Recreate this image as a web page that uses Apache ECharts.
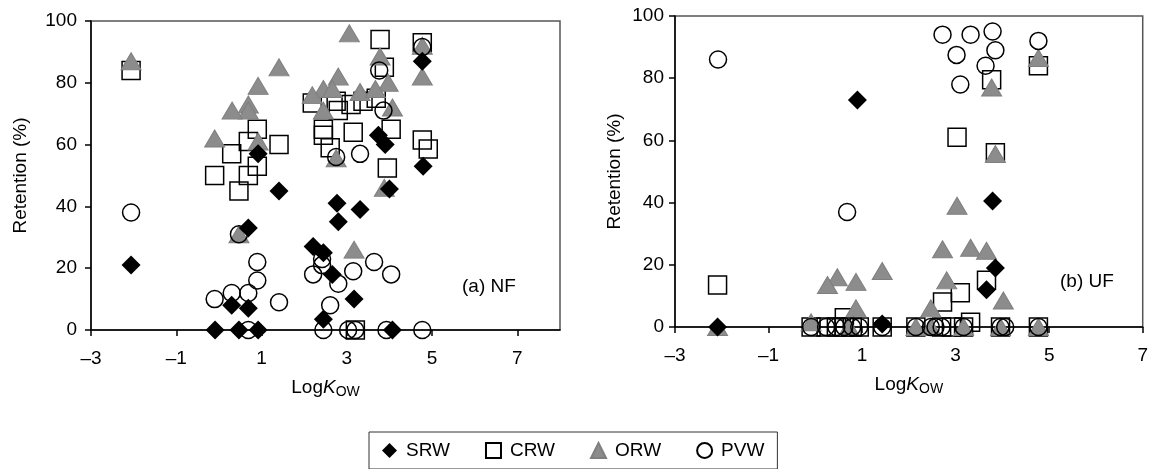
<!DOCTYPE html>
<html>
<head>
<meta charset="utf-8">
<script src="https://cdn.jsdelivr.net/npm/echarts@6/dist/echarts.min.js"></script>
<style>
html,body{margin:0;padding:0;background:#fff;}
#chart{width:1151px;height:469px;}
</style>
</head>
<body>
<div id="chart"></div>
<script>
// ---- data ----
var seriesNames = ['SRW', 'CRW', 'ORW', 'PVW'];
var xTickValues = [-3, -1, 1, 3, 5, 7];
var panelLabels = ['(a) NF', '(b) UF'];

// (a) NF
var nfSRW = [[-2.06,21],[0.92,57],[1.41,45],[0.69,33],[0.3,8],[0.69,7],[-0.09,0],[0.47,0],[0.92,0],
  [4.77,87],[3.74,63],[3.9,60],[4.79,53],[4.0,45.6],[2.77,41],[3.31,39],[2.8,35],[2.21,27],[2.45,25],
  [2.66,18],[3.17,10],[2.45,3.5],[4.07,0]];
var nfCRW = [[-2.06,84],[0.9,65],[0.69,61],[1.41,60],[0.3,57],[0.9,53],[-0.1,50],[0.69,50],[0.47,45],
  [3.78,94],[4.77,93],[3.88,85],[2.19,73.5],[2.75,74],[2.8,71],[3.1,73],[3.38,74],[3.69,75],
  [2.45,65],[2.45,63],[3.15,64],[4.04,65],[4.77,61.5],[4.91,58.6],[2.61,59],[3.95,52.4],[3.2,0]];
var nfORW = [[-2.06,87],[1.41,85],[0.92,79],[0.69,73],[0.69,71],[0.31,71],[-0.1,62],[0.92,61],[0.47,31],
  [3.06,96],[4.77,92],[4.77,82],[3.78,88.5],[3.97,80],[2.8,82],[2.45,78],[2.66,78],[2.19,76],[3.31,77],
  [3.67,78],[4.07,72],[2.45,71],[2.75,55.6],[3.88,46],[3.17,26]];
var nfPVW = [[-2.06,38],[0.47,31],[0.9,22],[0.9,16],[0.3,12],[0.69,12],[-0.1,10],[1.41,9],[0.69,0],
  [4.77,91.6],[3.76,84],[3.86,71],[2.75,56],[3.31,57],[2.42,23],[2.42,21],[3.64,22],[2.21,18],[3.15,19],
  [4.04,18],[2.8,15],[2.61,8],[2.45,0],[3.03,0],[3.2,0],[3.93,0],[4.77,0]];

// (b) UF
var ufSRW = [[-2.09,0],[0.9,73],[3.79,40.5],[3.85,19],[3.66,12],[1.43,1]];
var ufCRW = [[-2.09,13.5],[4.77,84],[3.77,79.5],[3.03,61],[3.85,56],[3.66,15],[3.1,11],[2.72,8],[3.32,1.5],
  [0.62,3],[-0.09,0],[0.23,0],[0.45,0],[0.62,0],[0.79,0],[0.94,0],[1.43,0],[2.15,0],[2.7,0],[2.91,0],
  [3.17,0],[3.96,0],[4.77,0]];
var ufORW = [[-2.09,0],[4.77,86.5],[3.77,77],[3.85,55.6],[3.03,39],[2.72,25],[3.32,25.5],[3.66,24.5],
  [1.43,18],[0.47,16],[0.26,13.5],[0.87,14.5],[0.87,6],[2.81,15],[2.47,6],[4.02,8.5],[-0.09,1.5],
  [0.72,0],[2.15,0],[2.47,0],[3.17,0],[3.96,0],[4.77,0]];
var ufPVW = [[-2.08,86],[0.68,37],[2.72,94],[3.32,94],[3.79,95],[3.02,87.5],[3.85,89],[3.64,84],[3.1,78],
  [4.77,92],[-0.09,0],[0.23,0],[0.45,0],[0.62,0],[0.79,0],[0.94,0],[1.43,0],[2.15,0],[2.47,0],[2.57,0],
  [2.7,0],[3.17,0],[3.96,0],[4.06,0],[4.77,0]];

// ---- styles ----
var FONT = 'Liberation Sans, Arial, Helvetica, sans-serif';
var styles = {
  SRW: {symbol: 'diamond', symbolSize: [19, 19], itemStyle: {color: '#000', borderColor: '#000', borderWidth: 0, opacity: 1}, z: 5},
  CRW: {symbol: 'rect', symbolSize: [18, 18], itemStyle: {color: 'rgba(255,255,255,0)', borderColor: '#000', borderWidth: 1.5, opacity: 1}, z: 2},
  ORW: {symbol: 'triangle', symbolSize: [20, 17], itemStyle: {color: '#8c8c8c', borderColor: '#7f7f7f', borderWidth: 1, opacity: 1}, z: 3},
  PVW: {symbol: 'circle', symbolSize: [17, 17], itemStyle: {color: 'rgba(255,255,255,0)', borderColor: '#000', borderWidth: 1.5, opacity: 1}, z: 4}
};
var panelData = [
  {SRW: nfSRW, CRW: nfCRW, ORW: nfORW, PVW: nfPVW},
  {SRW: ufSRW, CRW: ufCRW, ORW: ufORW, PVW: ufPVW}
];

var nameRich = {
  a: {fontSize: 19, fontFamily: FONT, color: '#000'},
  b: {fontSize: 19, fontFamily: FONT, fontStyle: 'italic', color: '#000'},
  c: {fontSize: 14, fontFamily: FONT, color: '#000', padding: [9, 0, 0, 0]}
};

function xAxisFor(i, max) {
  return {
    type: 'value', gridIndex: i, min: -3, max: max,
    name: '{a|Log}{b|K}{c|OW}', nameLocation: 'middle', nameGap: 46,
    nameTextStyle: {rich: nameRich},
    axisLine: {show: true, onZero: false, lineStyle: {color: '#000', width: 1.5}},
    axisTick: {show: true, inside: false, length: 6, customValues: xTickValues, lineStyle: {color: '#000', width: 1.5}},
    axisLabel: {customValues: xTickValues, margin: 19, fontSize: 19, fontFamily: FONT, color: '#000',
      formatter: function (v) { return v < 0 ? '\u2013' + Math.abs(v) : String(v); }},
    splitLine: {show: false}
  };
}
function yAxisFor(i, gap, margin) {
  return {
    type: 'value', gridIndex: i, min: 0, max: 100, interval: 20,
    name: 'Retention (%)', nameLocation: 'middle', nameGap: gap, nameRotate: 90,
    nameTextStyle: {fontSize: 19, fontFamily: FONT, color: '#000'},
    axisLine: {show: true, onZero: false, lineStyle: {color: '#000', width: 1.5}},
    axisTick: {show: true, inside: false, length: 6, lineStyle: {color: '#000', width: 1.5}},
    axisLabel: {margin: margin, fontSize: 19, fontFamily: FONT, color: '#000'},
    splitLine: {show: false}
  };
}

var series = [];
panelData.forEach(function (pd, gi) {
  seriesNames.forEach(function (n) {
    var s = styles[n];
    series.push({
      name: n, type: 'scatter', xAxisIndex: gi, yAxisIndex: gi,
      symbol: s.symbol, symbolSize: s.symbolSize, itemStyle: s.itemStyle, z: s.z,
      data: pd[n], clip: false, emphasis: {disabled: true}
    });
  });
});

var chart = echarts.init(document.getElementById('chart'), null, {renderer: 'canvas'});
chart.setOption({
  animation: false,
  backgroundColor: '#fff',
  grid: [
    {left: 91, top: 21, width: 469, height: 309, show: true, borderColor: '#555', borderWidth: 1.5, backgroundColor: 'transparent'},
    {left: 675, top: 16, width: 470, height: 311, show: true, borderColor: '#555', borderWidth: 1.5, backgroundColor: 'transparent'}
  ],
  xAxis: [xAxisFor(0, 8), xAxisFor(1, 7)],
  yAxis: [yAxisFor(0, 61, 14), yAxisFor(1, 51, 11)],
  legend: {
    data: seriesNames, left: 369, top: 432, orient: 'horizontal',
    padding: [9, 13, 9, 13], itemGap: 35, itemWidth: 15, itemHeight: 15,
    borderColor: '#333', borderWidth: 1,
    textStyle: {fontSize: 19, fontFamily: FONT, color: '#000', padding: [0, 0, 0, 4]},
    selectedMode: false
  },
  graphic: [
    {type: 'text', left: 462, top: 277, style: {text: panelLabels[0], font: '19px ' + FONT, fill: '#000'}},
    {type: 'text', left: 1060, top: 272, style: {text: panelLabels[1], font: '19px ' + FONT, fill: '#000'}}
  ],
  series: series
});
</script>
</body>
</html>
